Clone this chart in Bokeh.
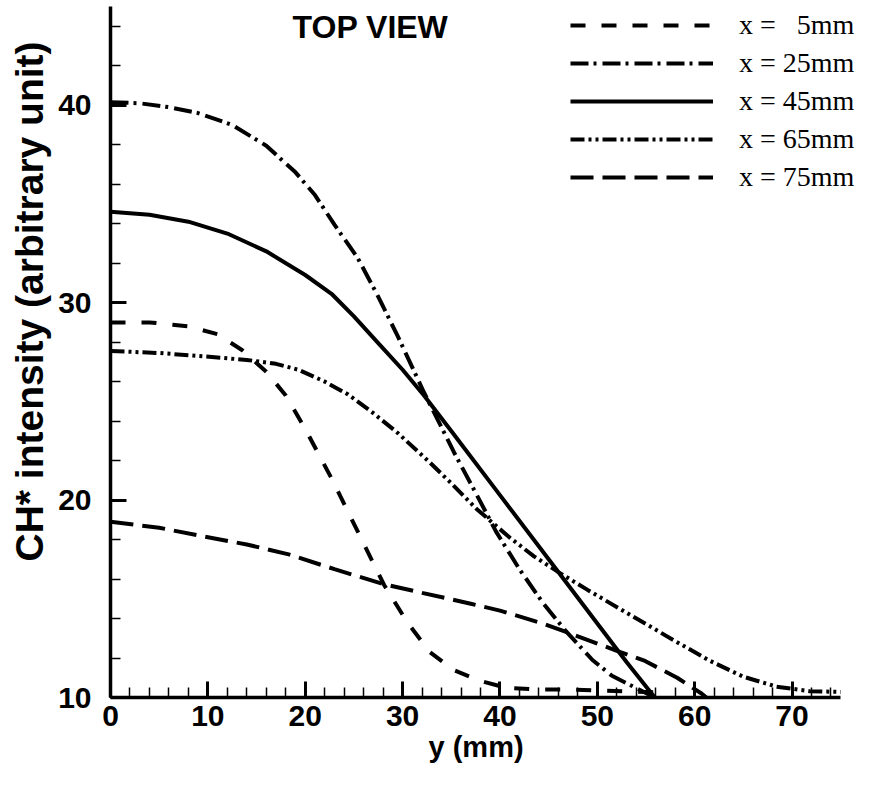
from bokeh.plotting import figure
from bokeh.models import Range1d, Legend, LegendItem, Label, SingleIntervalTicker, Title
from bokeh.embed import file_html
from bokeh.resources import INLINE

# ---- data ----
y_5mm = [0, 4, 8, 11, 13.5, 16, 18, 20, 22.7, 25.4, 28.1, 30.5, 32.8, 35.2, 37.9, 40.6, 44, 47, 50.5, 54, 57]
i_5mm = [29.0, 29.0, 28.8, 28.4, 27.6, 26.5, 25.3, 23.6, 21.1, 18.4, 15.7, 13.8, 12.3, 11.4, 10.85, 10.5, 10.4, 10.4, 10.35, 10.3, 10.25]

y_25mm = [0, 3, 6, 9, 12.5, 16, 19, 21, 23, 25.4, 27.4, 29.5, 32.2, 35.3, 37.9, 39.6, 42, 44.4, 46.7, 49.5, 51.5, 53.9, 55.9]
i_25mm = [40.15, 40.1, 39.9, 39.6, 39.0, 37.95, 36.6, 35.45, 33.95, 32.25, 30.4, 28.3, 25.45, 22.4, 20.0, 18.4, 16.5, 14.8, 13.4, 11.9, 11.1, 10.5, 10.0]

y_45mm = [0, 4, 8, 12, 16, 20, 22.7, 25, 27.5, 30, 32.2, 35, 40, 45, 50, 53, 55.9]
i_45mm = [34.6, 34.45, 34.1, 33.5, 32.6, 31.4, 30.45, 29.3, 27.95, 26.6, 25.3, 23.5, 20.25, 17.0, 13.75, 11.8, 10.0]

y_65mm = [0, 5, 9, 14, 17, 19.3, 22, 24.4, 27, 29.5, 32.8, 35, 37.6, 41, 43.5, 46, 49, 52.8, 55, 58.2, 61.6, 65, 68.4, 71.8, 75]
i_65mm = [27.55, 27.45, 27.3, 27.1, 26.9, 26.6, 26.0, 25.35, 24.4, 23.4, 21.9, 20.85, 19.55, 18.1, 17.15, 16.35, 15.45, 14.35, 13.72, 12.8, 11.85, 11.05, 10.55, 10.32, 10.28]

y_75mm = [0, 5, 9.1, 14, 18.3, 23, 28, 32, 37, 40, 44.4, 48, 51.8, 54.9, 58.2, 60.7, 61.2]
i_75mm = [18.9, 18.6, 18.2, 17.75, 17.25, 16.5, 15.75, 15.3, 14.75, 14.4, 13.75, 13.1, 12.4, 11.85, 11.0, 10.2, 10.0]

labels = ["x =   5mm", "x = 25mm", "x = 45mm", "x = 65mm", "x = 75mm"]
x_label = "y (mm)"
y_label = "CH* intensity (arbitrary unit)"
title_text = "TOP VIEW"

X_MAX = 75
p = figure(width=860, height=771, output_backend="svg", toolbar_location=None,
           x_range=Range1d(0, X_MAX + 2.03), y_range=Range1d(10, 45),
           min_border_left=102, min_border_right=0, min_border_top=6, min_border_bottom=74)
p.outline_line_color = None
p.xgrid.visible = False
p.ygrid.visible = False
p.background_fill_color = "white"
p.border_fill_color = "white"

series = [
    (y_5mm, i_5mm, "15 16"),
    (y_25mm, i_25mm, "18 5 3 6"),
    (y_45mm, i_45mm, "solid"),
    (y_65mm, i_65mm, "14 4 3 4 3 4"),
    (y_75mm, i_75mm, "23 9"),
]
items = []
for (xs, ys, dash), lab in zip(series, labels):
    r = p.line(xs, ys, line_color="black", line_width=4, line_dash=dash)
    items.append(LegendItem(label=lab, renderers=[r]))

legend = Legend(items=items, location=(460, 504), glyph_width=143, glyph_height=30,
                label_height=30, spacing=6, label_standoff=26, padding=0, margin=0,
                border_line_alpha=0, background_fill_alpha=0,
                label_text_font="Liberation Serif", label_text_font_size="28px",
                label_text_color="black")
p.add_layout(legend)

p.xaxis.ticker = SingleIntervalTicker(interval=10, num_minor_ticks=5)
p.yaxis.ticker = SingleIntervalTicker(interval=10, num_minor_ticks=5)
p.xaxis.bounds = (0, X_MAX)
for ax in (p.xaxis[0], p.yaxis[0]):
    ax.axis_line_width = 3.5
    ax.axis_line_color = "black"
    ax.major_tick_in = 16
    ax.major_tick_out = 0
    ax.major_tick_line_width = 3
    ax.minor_tick_in = 10
    ax.minor_tick_out = 0
    ax.minor_tick_line_width = 1.5
    ax.major_label_text_font = "Liberation Sans"
    ax.major_label_text_font_style = "bold"
    ax.major_label_text_font_size = "30px"
    ax.major_label_text_color = "black"

p.xaxis.major_label_standoff = 8
p.yaxis.major_label_standoff = 19

p.add_layout(Title(text=x_label, align="left", offset=318, standoff=0,
                   text_font="Liberation Sans", text_font_style="bold",
                   text_font_size="29px", text_color="black"), "below")

p.add_layout(Title(text=y_label, align="left", offset=136, standoff=10,
                   text_font="Liberation Sans", text_font_style="bold",
                   text_font_size="39px", text_color="black"), "left")

p.add_layout(Label(x=26.7, y=43.94, text=title_text, text_align="center",
                   text_baseline="alphabetic", text_font="Liberation Sans",
                   text_font_style="bold", text_font_size="32px", text_color="black"))

open("out.html", "w").write(file_html(p, INLINE))
